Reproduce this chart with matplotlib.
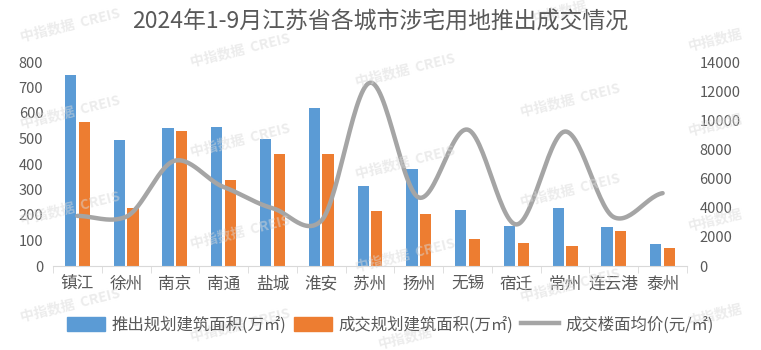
import numpy as np
import matplotlib
matplotlib.use("Agg")
import matplotlib.pyplot as plt
from matplotlib.patches import Patch
from matplotlib.lines import Line2D

plt.rcParams["font.family"] = ["Noto Sans CJK SC", "DejaVu Sans"]

cities = ["镇江", "徐州", "南京", "南通", "盐城", "淮安", "苏州", "扬州",
          "无锡", "宿迁", "常州", "连云港", "泰州"]
supply_area = [749, 496, 543, 547, 500, 618, 315, 382, 220, 157, 228, 153, 87]
deal_area = [564, 228, 531, 338, 441, 441, 216, 205, 106, 90, 79, 138, 71]
deal_price = [3440, 3380, 7230, 5420, 3970, 3100, 12580, 4700, 9360, 2850,
              9230, 3350, 5000]

BLUE = "#5B9BD5"
ORANGE = "#ED7D31"
GRAY = "#A5A5A5"
TEXT = "#595959"


def smooth_curve(x, y, steps=30, tension=0.75):
    # hermite smoothing between the points, like the spreadsheet "smoothed line"
    x = np.asarray(x, float)
    y = np.asarray(y, float)
    px = np.concatenate([[2 * x[0] - x[1]], x, [2 * x[-1] - x[-2]]])
    py = np.concatenate([[y[0]], y, [y[-1]]])
    xs, ys = [], []
    t = np.linspace(0, 1, steps)
    h00 = 2 * t**3 - 3 * t**2 + 1
    h10 = t**3 - 2 * t**2 + t
    h01 = -2 * t**3 + 3 * t**2
    h11 = t**3 - t**2
    for i in range(1, len(px) - 2):
        for arr, out in ((px, xs), (py, ys)):
            p0, p1, p2, p3 = arr[i - 1], arr[i], arr[i + 1], arr[i + 2]
            m1 = (p2 - p0) / 2 * tension
            m2 = (p3 - p1) / 2 * tension
            if arr is px:
                m1, m2 = (p2 - p0) / 2, (p3 - p1) / 2
            out.extend(h00 * p1 + h10 * m1 + h01 * p2 + h11 * m2)
    return np.array(xs), np.array(ys)


def add_watermarks(fig):
    full = [(70, 25), (240, 50), (405, 70),
            (70, 112), (240, 140), (405, 162), (570, 100),
            (70, 208), (240, 232), (405, 255), (570, 190),
            (70, 305), (240, 325), (570, 285)]
    short = [(560, 12), (715, 40), (715, 125), (715, 220), (715, 315),
             (405, 338)]
    for spots, txt in ((full, "中指数据  CREIS"), (short, "中指数据")):
        for px, py in spots:
            fig.text(px / 761, 1 - py / 350, txt, fontsize=10,
                     fontweight="bold", color="#d9d9d9", alpha=0.5,
                     rotation=14, ha="center", va="center", zorder=0)


fig = plt.figure(figsize=(7.61, 3.5), dpi=100)
ax = fig.add_axes([53 / 761, 84 / 350, (687 - 53) / 761, 204 / 350])
ax2 = ax.twinx()

x = np.arange(len(cities))
ax.bar(x - 0.14, supply_area, width=0.23, color=BLUE, zorder=2)
ax.bar(x + 0.14, deal_area, width=0.23, color=ORANGE, zorder=2)

sx, sy = smooth_curve(x, deal_price)
ax2.plot(sx, sy, color=GRAY, linewidth=3.2, solid_capstyle="round")

ax.set_xlim(-0.5, len(cities) - 0.5)
ax.set_ylim(0, 800)
ax.set_yticks(range(0, 801, 100))
ax2.set_ylim(0, 14000)
ax2.set_yticks(range(0, 14001, 2000))

ax.set_xticks(x)
ax.set_xticklabels(cities, fontsize=12, color=TEXT)
ax.set_xticks(np.arange(-0.5, len(cities)), minor=True)
ax.tick_params(axis="x", which="major", length=0, pad=7)
ax.tick_params(axis="x", which="minor", length=5, color="#d9d9d9")
ax.tick_params(axis="y", length=0, labelsize=10.5, labelcolor=TEXT, pad=7)
ax2.tick_params(axis="y", length=0, labelsize=10.5, labelcolor=TEXT, pad=9)

for a in (ax, ax2):
    for side in ("top", "left", "right"):
        a.spines[side].set_visible(False)
ax2.spines["bottom"].set_visible(False)
ax.spines["bottom"].set_color("#d9d9d9")

fig.text(0.5, 1 - 22 / 350, "2024年1-9月江苏省各城市涉宅用地推出成交情况",
         ha="center", va="center", fontsize=16.5, color=TEXT)

handles = [Patch(color=BLUE), Patch(color=ORANGE),
           Line2D([], [], color=GRAY, linewidth=3.2)]
labels = ["推出规划建筑面积(万㎡)", "成交规划建筑面积(万㎡)", "成交楼面均价(元/㎡)"]
fig.legend(handles, labels, loc="center", bbox_to_anchor=(0.513, 25 / 350),
           ncol=3, frameon=False, fontsize=11.8, labelcolor=TEXT,
           handlelength=2.3, handleheight=1.0, handletextpad=0.4,
           columnspacing=0.5)

add_watermarks(fig)

fig.savefig("out.png", dpi=100)
